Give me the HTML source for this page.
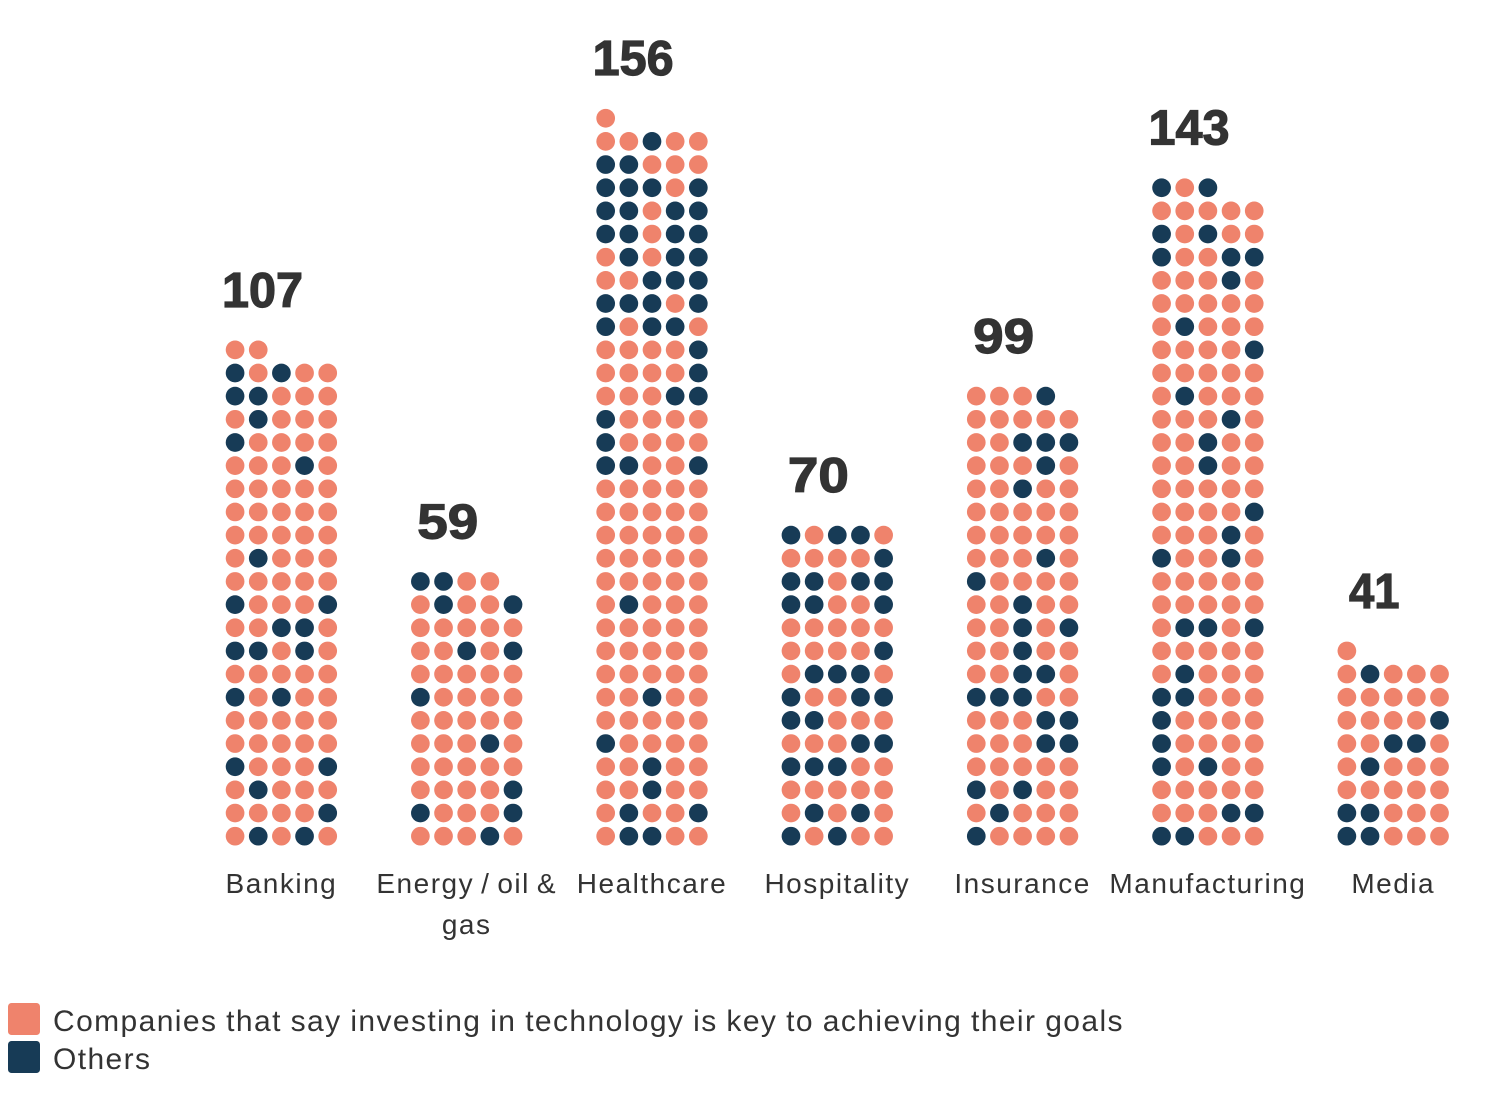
<!DOCTYPE html>
<html lang="en">
<head>
<meta charset="utf-8">
<title>Companies investing in technology by sector</title>
<style>
  html, body { margin: 0; padding: 0; background: #fff; }
  #chart { display: block; width: 1492px; height: 1108px; font-family: "Liberation Sans", sans-serif; }
  .total { font-size: 49px; font-weight: 700; fill: #333; text-anchor: middle; stroke: #333; stroke-width: 1.2px; }
  .cat { font-size: 28px; fill: #333; text-anchor: middle; letter-spacing: 1.5px; word-spacing: -2.3px; }
  .legend-text { font-size: 30px; fill: #333; letter-spacing: 1.4px; word-spacing: -0.9px; }
</style>
</head>
<body>
<svg id="chart" xmlns="http://www.w3.org/2000/svg" width="1492" height="1108" viewBox="0 0 1492 1108">
  <g id="plot"></g>
  <g>
    <rect x="8" y="1003" width="32" height="32" rx="3.5" fill="#ef836c"/>
    <text class="legend-text" x="53" y="1031">Companies that say investing in technology is key to achieving their goals</text>
    <rect x="8" y="1041" width="32" height="32" rx="3.5" fill="#173b56"/>
    <text class="legend-text" x="53" y="1069">Others</text>
  </g>
</svg>
<script>
const categories = ["Banking", "Energy / oil & gas", "Healthcare", "Hospitality", "Insurance", "Manufacturing", "Media"];
const categoryLines = [["Banking"], ["Energy / oil &", "gas"], ["Healthcare"], ["Hospitality"], ["Insurance"], ["Manufacturing"], ["Media"]];
const totals = [107, 59, 156, 70, 99, 143, 41];

// Dot pattern per category, rows listed top to bottom: X = others, . = technology-key companies
const banking = ["..","X.X..","XX...",".X...","X....","...X.",".....",".....",".....",".X...",".....","X...X","..XX.","XX.X.",".....","X.X..",".....",".....","X...X",".X...","....X",".X.X."];
const energy = ["XX..",".X..X",".....","..X.X",".....","X....",".....","...X.",".....","....X","X...X","...X."];
const healthcare = [".","..X..","XX...","XXX.X","XX.XX","XX.XX",".X.XX","..XXX","XXX.X","X.XX.","....X","....X","...XX","X....","X....","XX..X",".....",".....",".....",".....",".....",".X...",".....",".....",".....","..X..",".....","X....","..X..","..X..",".X..X",".XX.."];
const hospitality = ["X.XX.","....X","XX.XX","XX..X",".....","....X",".XXX.","X..XX","XX...","...XX","XXX..",".....",".X.X.","X.X.."];
const insurance = ["...X",".....","..XXX","...X.","..X..",".....",".....","...X.","X....","..X..","..X.X","..X..","..XX.","XXX..","...XX","...XX",".....","X.X..",".X...","X...."];
const manufacturing = ["X.X",".....","X.X..","X..XX","...X.",".....",".X...","....X",".....",".X...","...X.","..X..","..X..",".....","....X","...X.","X..X.",".....",".....",".XX.X",".....",".X...","XX...","X....","X....","X.X..",".....","...XX","XX..."];
const media = [".",".X...",".....","....X","..XX.",".X...",".....","XX...","XX..."];
const patterns = [banking, energy, healthcare, hospitality, insurance, manufacturing, media];

const NS = "http://www.w3.org/2000/svg";
const plot = document.getElementById("plot");
const PER_ROW = 5;
const STEP = 23.16;
const RADIUS = 9.35;
const COLOR_KEY = "#ef836c";
const COLOR_OTHER = "#173b56";

function xCategory(c) { return 281.4 + c * 185.3; }
function xDot(c, col) { return xCategory(c) + (col - 2) * STEP; }
function yDot(row) { return 836.2 - row * STEP; }
function slug(s) { return s.toLowerCase().replace(/[^a-z0-9]+/g, "-"); }
function totalWidth(v) {
  return String(v).split("").reduce(function (w, d) { return w + (d === "1" ? 20 : 30.5); }, 0);
}

categories.forEach(function (name, c) {
  const group = document.createElementNS(NS, "g");
  
  
  plot.appendChild(group);

  const rowsFromBottom = patterns[c].slice().reverse();
  const total = totals[c];
  for (let i = 0; i < total; i++) {
    const row = Math.floor(i / PER_ROW);
    const col = i % PER_ROW;
    const isOther = rowsFromBottom[row] && rowsFromBottom[row][col] === "X";
    const dot = document.createElementNS(NS, "circle");
    dot.setAttribute("cx", xDot(c, col));
    dot.setAttribute("cy", yDot(row));
    dot.setAttribute("r", RADIUS);
    dot.setAttribute("fill", isOther ? COLOR_OTHER : COLOR_KEY);
    
    
    group.appendChild(dot);
  }

  const topRow = Math.floor((total - 1) / PER_ROW);
  const label = document.createElementNS(NS, "text");
  label.setAttribute("class", "total");
  label.setAttribute("x", xCategory(c) - 18.9);
  label.setAttribute("y", yDot(topRow) - 43);
  label.setAttribute("textLength", totalWidth(total));
  label.setAttribute("lengthAdjust", "spacingAndGlyphs");
  label.textContent = total;
  
  
  group.appendChild(label);

  categoryLines[c].forEach(function (line, n) {
    const t = document.createElementNS(NS, "text");
    t.setAttribute("class", "cat");
    t.setAttribute("x", xCategory(c));
    t.setAttribute("y", 893 + n * 41);
    t.textContent = line;
    
    
    group.appendChild(t);
  });
});
</script>
</body>
</html>
